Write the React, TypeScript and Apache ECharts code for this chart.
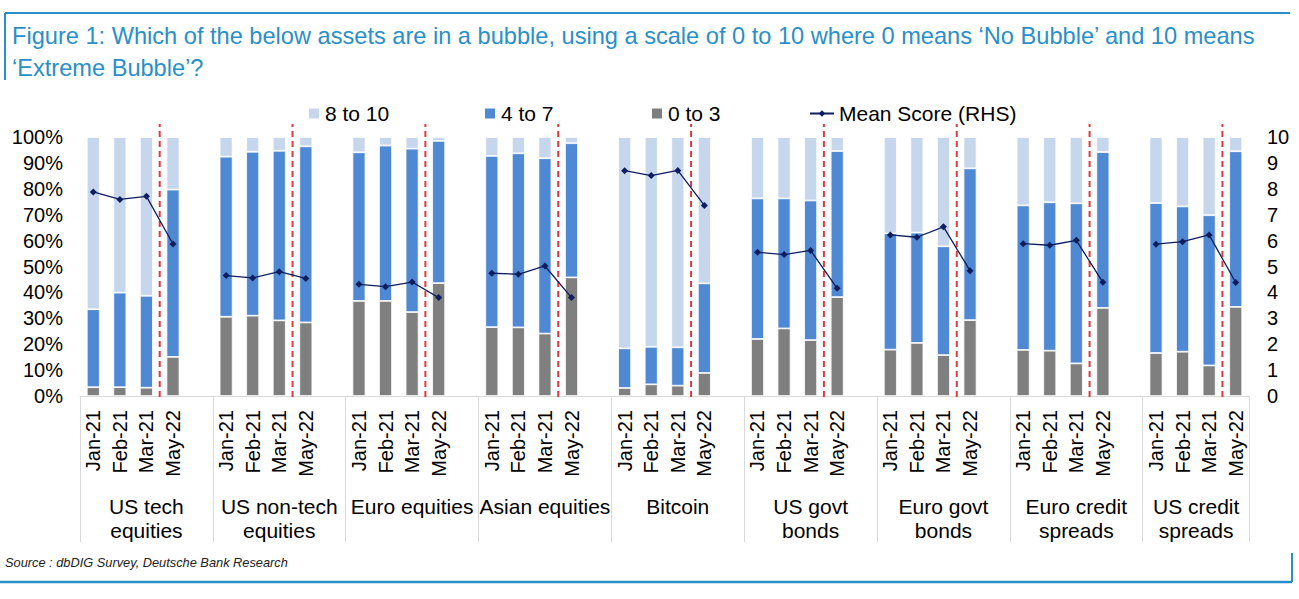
import React, { useEffect, useRef } from "react";
import * as echarts from "echarts";

const groups = [
  "US tech\nequities",
  "US non-tech\nequities",
  "Euro equities",
  "Asian equities",
  "Bitcoin",
  "US govt\nbonds",
  "Euro govt\nbonds",
  "Euro credit\nspreads",
  "US credit\nspreads",
];
const months = ["Jan-21", "Feb-21", "Mar-21", "May-22"];

// share of respondents (%) per group, in month order
const score0to3 = [
  [3.4, 3.4, 3.2, 15.1],
  [30.6, 31.0, 29.2, 28.4],
  [36.7, 36.7, 32.4, 43.6],
  [26.6, 26.5, 24.1, 45.8],
  [3.1, 4.5, 4.0, 8.9],
  [22.0, 26.1, 21.6, 38.2],
  [17.9, 20.5, 15.8, 29.3],
  [17.8, 17.5, 12.6, 34.0],
  [16.6, 17.1, 11.8, 34.4],
];
const score4to7 = [
  [30.1, 36.5, 35.5, 64.6],
  [61.8, 63.3, 65.5, 68.0],
  [57.4, 60.0, 63.1, 54.9],
  [66.1, 67.2, 67.7, 51.8],
  [15.3, 14.5, 14.8, 34.6],
  [54.3, 50.2, 53.9, 56.4],
  [44.9, 42.6, 42.0, 58.6],
  [55.8, 57.3, 61.8, 60.2],
  [57.9, 56.1, 58.0, 60.1],
];
const score8to10 = [
  [66.5, 60.1, 61.3, 20.3],
  [7.6, 5.7, 5.3, 3.6],
  [5.9, 3.3, 4.5, 1.5],
  [7.3, 6.3, 8.2, 2.4],
  [81.6, 81.0, 81.2, 56.5],
  [23.7, 23.7, 24.5, 5.4],
  [37.2, 36.9, 42.2, 12.1],
  [26.4, 25.2, 25.6, 5.8],
  [25.5, 26.8, 30.2, 5.5],
];
const meanScore = [
  [7.88, 7.59, 7.71, 5.87],
  [4.65, 4.56, 4.8, 4.54],
  [4.31, 4.22, 4.4, 3.8],
  [4.74, 4.7, 5.02, 3.8],
  [8.7, 8.51, 8.71, 7.36],
  [5.55, 5.46, 5.62, 4.16],
  [6.22, 6.13, 6.53, 4.84],
  [5.88, 5.82, 6.01, 4.39],
  [5.86, 5.96, 6.22, 4.38],
];
const pctTicks = [0, 100, 10];
const rhsTicks = [0, 10, 1];

const FONT = "'Liberation Sans', Arial, sans-serif";
const C_LIGHT = "#c6d6ec";
const C_MID = "#4f88d3";
const C_GRAY = "#7f7f7f";
const C_LINE = "#0e1d5e";
const C_RED = "#e0393e";
const C_FRAME = "#2a8fc9";

// build slot list: 4 bars per group, then an empty slot between groups
type Slot = { key: string; g: number; m: number };
const slots: Slot[] = [];
groups.forEach((_, g) => {
  months.forEach((__, m) => slots.push({ key: `${g}-${m}`, g, m }));
  if (g < groups.length - 1) slots.push({ key: `gap${g}`, g, m: -1 });
});
const pick = (arr: number[][]) =>
  slots.map((s) => (s.m < 0 ? null : arr[s.g][s.m]));
const redIdx = slots
  .map((s, i) => (s.m === 3 ? [i, 0] : null))
  .filter((v) => v !== null) as number[][];

export default function App() {
  const ref = useRef<HTMLDivElement>(null);
  useEffect(() => {
    if (!ref.current) return;
    const chart = echarts.init(ref.current, undefined, { renderer: "svg" });
    const lastGroup = groups.length - 1;
    const legendText = { fontSize: 21, color: "#000", fontFamily: FONT };
    const option: any = {
      animation: false,
      textStyle: { fontFamily: FONT },
      grid: { left: 80, right: 50, top: 137, bottom: 203, containLabel: false },
      legend: [
        {
          data: ["8 to 10"],
          left: 302,
          top: 98,
          itemWidth: 12,
          itemHeight: 12,
          icon: "rect",
          textStyle: legendText,
        },
        {
          data: ["4 to 7"],
          left: 478,
          top: 98,
          itemWidth: 12,
          itemHeight: 12,
          icon: "rect",
          textStyle: legendText,
        },
        {
          data: ["0 to 3"],
          left: 645,
          top: 98,
          itemWidth: 12,
          itemHeight: 12,
          icon: "rect",
          textStyle: legendText,
        },
        {
          data: ["Mean Score (RHS)"],
          left: 804,
          top: 98,
          itemWidth: 24,
          itemHeight: 8,
          textStyle: legendText,
        },
      ],
      xAxis: [
        {
          type: "category",
          data: slots.map((s) => s.key),
          axisLine: { show: true, lineStyle: { color: "#d9d9d9", width: 1 } },
          axisTick: { show: false },
          axisLabel: {
            interval: 0,
            rotate: 90,
            margin: 14,
            fontSize: 20,
            color: "#000",
            fontFamily: FONT,
            formatter: (v: string) => {
              const s = slots.find((x) => x.key === v);
              return s && s.m >= 0 ? months[s.m] : "";
            },
          },
        },
        {
          type: "category",
          position: "bottom",
          data: slots.map((s) =>
            s.g === lastGroup && s.m === 2
              ? { value: s.key, textStyle: { padding: [0, 26, 0, 0] } }
              : s.key
          ),
          axisLine: { show: false },
          axisTick: {
            show: true,
            length: 146,
            interval: (i: number) => i % 5 === 0,
            lineStyle: { color: "#d9d9d9", width: 1 },
          },
          axisLabel: {
            interval: (i: number) => i % 5 === 2,
            margin: 98,
            fontSize: 21,
            lineHeight: 24,
            color: "#000",
            fontFamily: FONT,
            formatter: (v: string) => {
              const s = slots.find((x) => x.key === v);
              return s ? groups[s.g] : "";
            },
          },
        },
      ],
      yAxis: [
        {
          type: "value",
          min: pctTicks[0],
          max: pctTicks[1],
          interval: pctTicks[2],
          axisLine: { show: false },
          axisTick: { show: false },
          splitLine: { show: false },
          axisLabel: {
            formatter: "{value}%",
            fontSize: 20,
            color: "#000",
            margin: 17,
            fontFamily: FONT,
          },
        },
        {
          type: "value",
          position: "right",
          min: rhsTicks[0],
          max: rhsTicks[1],
          interval: rhsTicks[2],
          axisLine: { show: false },
          axisTick: { show: false },
          splitLine: { show: false },
          axisLabel: { fontSize: 20, color: "#000", margin: 18, fontFamily: FONT },
        },
      ],
      series: [
        {
          name: "0 to 3",
          type: "bar",
          stack: "s",
          barWidth: 13,
          data: pick(score0to3),
          itemStyle: { color: C_GRAY, borderColor: "#fff", borderWidth: 0.8 },
        },
        {
          name: "4 to 7",
          type: "bar",
          stack: "s",
          barWidth: 13,
          data: pick(score4to7),
          itemStyle: { color: C_MID, borderColor: "#fff", borderWidth: 0.8 },
        },
        {
          name: "8 to 10",
          type: "bar",
          stack: "s",
          barWidth: 13,
          data: pick(score8to10),
          itemStyle: { color: C_LIGHT, borderColor: "#fff", borderWidth: 0.8 },
        },
        {
          name: "Mean Score (RHS)",
          type: "line",
          yAxisIndex: 1,
          data: pick(meanScore),
          connectNulls: false,
          symbol: "diamond",
          symbolSize: 7,
          itemStyle: { color: C_LINE },
          lineStyle: { color: C_LINE, width: 1.3 },
          z: 5,
        },
        {
          type: "custom",
          name: "divider",
          data: redIdx,
          encode: { x: 0, y: 1 },
          clip: false,
          z: 4,
          renderItem: (params: any, api: any) => {
            const idx = api.value(0);
            const base = api.coord([idx, 0]);
            const top = api.coord([idx, 105]);
            const w = api.size([1, 0])[0];
            const x = base[0] - w / 2;
            return {
              type: "line",
              shape: { x1: x, y1: base[1] + 1, x2: x, y2: top[1] },
              style: { stroke: C_RED, lineWidth: 2, lineDash: [6, 4] },
            };
          },
        },
      ],
      graphic: [
        {
          type: "line",
          shape: { x1: 5, y1: 13, x2: 1290, y2: 13 },
          style: { stroke: C_FRAME, lineWidth: 2 },
        },
        {
          type: "line",
          shape: { x1: 5, y1: 13, x2: 5, y2: 80 },
          style: { stroke: C_FRAME, lineWidth: 2 },
        },
        {
          type: "text",
          left: 12,
          top: 20,
          style: {
            text:
              "Figure 1: Which of the below assets are in a bubble, using a scale of 0 to 10 where 0 means \u2018No Bubble\u2019 and 10 means\n\u2018Extreme Bubble\u2019?",
            fontSize: 23.6,
            lineHeight: 32,
            fill: C_FRAME,
            fontFamily: FONT,
          },
        },
        {
          type: "text",
          left: 5,
          top: 556,
          style: {
            text: "Source : dbDIG Survey, Deutsche Bank Research",
            fontSize: 12.8,
            fontStyle: "italic",
            fill: "#222",
            fontFamily: FONT,
          },
        },
        {
          type: "line",
          shape: { x1: 0, y1: 582, x2: 1292, y2: 582 },
          style: { stroke: C_FRAME, lineWidth: 2.5 },
        },
        {
          type: "line",
          shape: { x1: 1292, y1: 553, x2: 1292, y2: 582 },
          style: { stroke: C_FRAME, lineWidth: 2 },
        },
      ],
    };
    chart.setOption(option);
    return () => chart.dispose();
  }, []);
  return (
    <div
      ref={ref}
      style={{ position: "absolute", left: 0, top: 0, width: 1299, height: 599 }}
    />
  );
}
